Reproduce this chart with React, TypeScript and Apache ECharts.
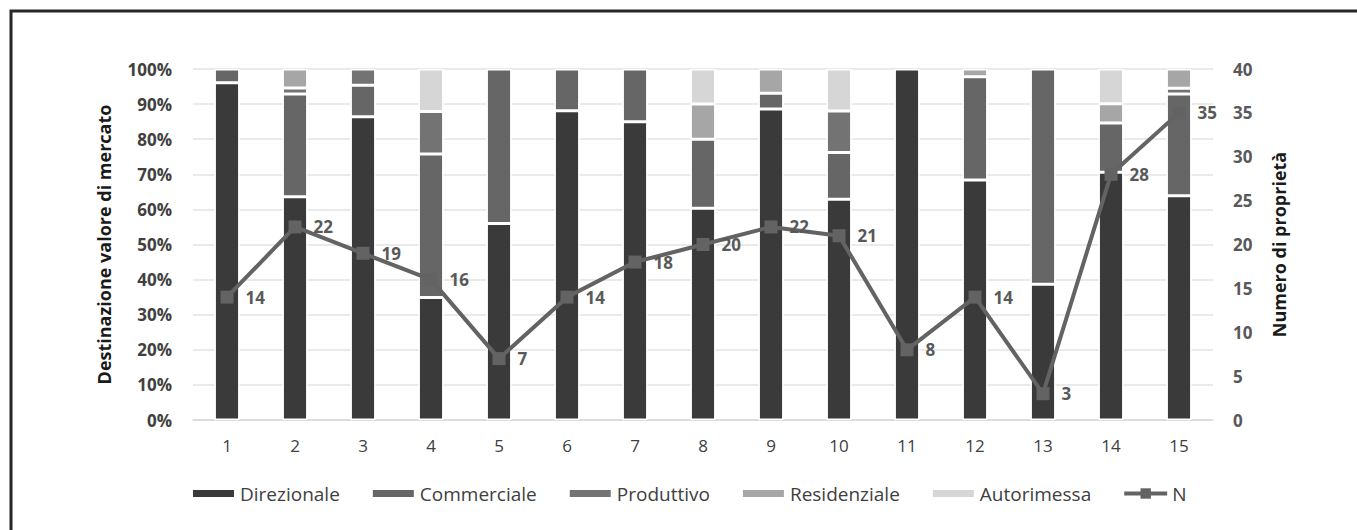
import React, { useEffect, useRef } from "react";
import * as echarts from "echarts";

const categories = ["1", "2", "3", "4", "5", "6", "7", "8", "9", "10", "11", "12", "13", "14", "15"];

// Share of market value by use (%)
const direzionale = [96.1, 63.6, 86.4, 34.9, 56.0, 88.1, 85.0, 60.3, 88.6, 62.9, 100, 68.4, 38.7, 70.6, 63.9];
const commerciale = [3.9, 29.3, 9.0, 40.9, 44.0, 11.9, 15.0, 19.7, 4.5, 13.3, 0, 29.4, 61.3, 14.0, 29.0];
const produttivo = [0, 1.7, 4.6, 12.1, 0, 0, 0, 0, 0, 11.8, 0, 0, 0, 0, 1.6];
const residenziale = [0, 5.4, 0, 0, 0, 0, 0, 10.0, 6.9, 0, 0, 2.2, 0, 5.5, 5.5];
const autorimessa = [0, 0, 0, 12.1, 0, 0, 0, 10.0, 0, 12.0, 0, 0, 0, 9.9, 0];

// Number of properties
const numero = [14, 22, 19, 16, 7, 14, 18, 20, 22, 21, 8, 14, 3, 28, 35];

const FONT = "'Open Sans', 'Noto Sans', sans-serif";
const BAR_ICON = "path://M0,0h43v9h-43z";

const barDefs = [
  { name: "Direzionale", data: direzionale, color: "#3a3a3a" },
  { name: "Commerciale", data: commerciale, color: "#666666" },
  { name: "Produttivo", data: produttivo, color: "#737373" },
  { name: "Residenziale", data: residenziale, color: "#a6a6a6" },
  { name: "Autorimessa", data: autorimessa, color: "#d6d6d6" },
];

export default function App() {
  const ref = useRef<HTMLDivElement>(null);

  useEffect(() => {
    if (!ref.current) return;
    const chart = echarts.init(ref.current, undefined, { renderer: "svg" });

    const barSeries = barDefs.map((d) => ({
      name: d.name,
      type: "bar",
      stack: "quota",
      yAxisIndex: 0,
      barWidth: "37%",
      data: d.data.map((v) => (v === 0 ? null : v)),
      itemStyle: { color: d.color, borderColor: "#ffffff", borderWidth: 1.5 },
      emphasis: { disabled: true },
    }));

    chart.setOption({
      animation: false,
      backgroundColor: "#ffffff",
      textStyle: { fontFamily: FONT },
      graphic: [
        {
          type: "rect",
          shape: { x: 11, y: 11, width: 1500, height: 700 },
          style: { fill: "none", stroke: "#262626", lineWidth: 3 },
          silent: true,
        },
      ],
      grid: { left: 193, right: 144, top: 69, bottom: 110, containLabel: false },
      legend: {
        bottom: 22,
        left: 186,
        itemWidth: 43,
        itemHeight: 13,
        itemGap: 31,
        lineStyle: { width: 4 },
        textStyle: { fontFamily: FONT, fontSize: 19, color: "#404040" },
        data: [
          ...barDefs.map((d) => ({ name: d.name, icon: BAR_ICON })),
          { name: "N" },
        ],
      },
      xAxis: {
        type: "category",
        data: categories,
        axisLine: { lineStyle: { color: "#d9d9d9", width: 1.5 } },
        axisTick: { show: false },
        axisLabel: { color: "#404040", fontSize: 17, fontFamily: FONT, margin: 17 },
      },
      yAxis: [
        {
          type: "value",
          min: 0,
          max: 100,
          interval: 10,
          name: "Destinazione valore di mercato",
          nameLocation: "middle",
          nameGap: 80,
          nameTextStyle: { color: "#1a1a1a", fontSize: 18, fontWeight: "bold", fontFamily: FONT },
          axisLabel: {
            formatter: "{value}%",
            color: "#404040",
            fontSize: 17,
            fontWeight: "bold",
            fontFamily: FONT,
            margin: 21,
          },
          splitLine: { lineStyle: { color: "#e3e3e3", width: 1.5 } },
          axisLine: { show: false },
          axisTick: { show: false },
        },
        {
          type: "value",
          min: 0,
          max: 40,
          interval: 5,
          name: "Numero di proprietà",
          nameLocation: "middle",
          nameGap: 57,
          nameTextStyle: { color: "#1a1a1a", fontSize: 18, fontWeight: "bold", fontFamily: FONT },
          axisLabel: {
            color: "#595959",
            fontSize: 17,
            fontWeight: "bold",
            fontFamily: FONT,
            margin: 20,
          },
          splitLine: { show: false },
          axisLine: { show: false },
          axisTick: { show: false },
        },
      ],
      series: [
        ...barSeries,
        {
          name: "N",
          type: "line",
          yAxisIndex: 1,
          data: numero,
          symbol: "rect",
          symbolSize: 13,
          lineStyle: { color: "#636363", width: 4 },
          itemStyle: { color: "#636363" },
          label: {
            show: true,
            position: "right",
            distance: 12,
            color: "#595959",
            fontSize: 17,
            fontWeight: "bold",
            fontFamily: FONT,
          },
          emphasis: { disabled: true },
          z: 5,
        },
      ],
    });

    return () => chart.dispose();
  }, []);

  return (
    <div
      ref={ref}
      style={{ position: "absolute", left: 0, top: 0, width: 1357, height: 530 }}
    />
  );
}
